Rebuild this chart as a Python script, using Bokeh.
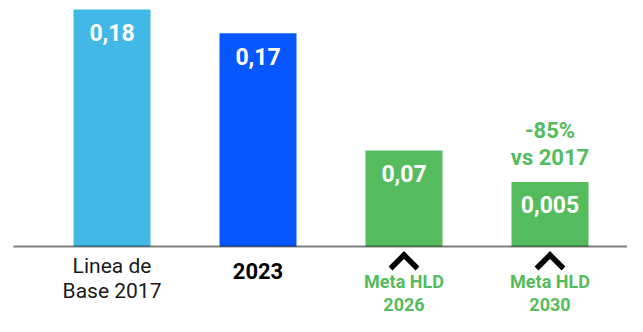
import numpy as np
from bokeh.plotting import figure
from bokeh.models import Range1d
from bokeh.core.properties import value
from bokeh.embed import file_html
from bokeh.resources import INLINE

# ---- data ----
categories = ["Linea de\nBase 2017", "2023", "Meta HLD\n2026", "Meta HLD\n2030"]
value_labels = ["0,18", "0,17", "0,07", "0,005"]
bar_heights = [0.18, 0.162, 0.073, 0.049]
note_text = "-85%\nvs 2017"
note_index = 3
goal_indices = [2, 3]

# ---- styles ----
LIGHT_BLUE = "#41b8e6"
BLUE = "#0857fe"
GREEN = "#55bc5d"
bar_colors = [LIGHT_BLUE, BLUE, GREEN, GREEN]
FONT = value("Roboto")

W, H = 627, 316
BASE_Y = 246.0               # pixel row of the baseline
PX_X = 146.0                 # pixels per category step
PX_Y = 237.0 / 0.18          # pixels per data unit
x0 = -111.5 / PX_X
y_top = BASE_Y / PX_Y
y_bot = -(H - BASE_Y) / PX_Y

xs = list(np.arange(len(categories), dtype=float))

p = figure(width=W, height=H, output_backend="svg", toolbar_location=None,
           x_range=Range1d(x0, x0 + W / PX_X), y_range=Range1d(y_bot, y_top),
           x_axis_location=None, y_axis_location=None, min_border=0,
           outline_line_color=None)
p.xgrid.visible = False
p.ygrid.visible = False
p.background_fill_color = "white"
p.border_fill_color = "white"

# bars
p.vbar(x=xs, top=bar_heights, bottom=0, width=77 / PX_X, color=bar_colors, line_color=None)

# baseline
p.segment(x0=[x0 + 13 / PX_X], y0=[0], x1=[x0 + W / PX_X], y1=[0],
          line_color="black", line_alpha=0.5, line_width=2)

# value labels inside bars
p.text(x=xs, y=bar_heights, text=value_labels, y_offset=23,
       text_align="center", text_baseline="middle", text_color="white",
       text_font=FONT, text_font_style="bold", text_font_size="23px")

# note above last bar
p.text(x=[xs[note_index]], y=[bar_heights[note_index]], text=[note_text], y_offset=-38,
       text_align="center", text_baseline="middle", text_color=GREEN,
       text_font=FONT, text_font_style="bold", text_font_size="22px",
       text_line_height=1.1)

# category labels
p.text(x=[xs[0]], y=[0], text=[categories[0]], y_offset=32,
       text_align="center", text_baseline="middle", text_color="#1a1a1a",
       text_font=FONT, text_font_style="normal", text_font_size="21px",
       text_line_height=1.03)
p.text(x=[xs[1]], y=[0], text=[categories[1]], y_offset=24.5,
       text_align="center", text_baseline="middle", text_color="black",
       text_font=FONT, text_font_style="bold", text_font_size="22px")
p.text(x=[xs[i] for i in goal_indices], y=[0] * len(goal_indices),
       text=[categories[i] for i in goal_indices], y_offset=46.5,
       text_align="center", text_baseline="middle", text_color=GREEN,
       text_font=FONT, text_font_style="bold", text_font_size="18px",
       text_line_height=1.05)

# chevrons under goal bars
dx = 13.5 / PX_X
apex = -8.5 / PX_Y
leg = -22.0 / PX_Y
p.multi_line(xs=[[xs[i] - dx, xs[i], xs[i] + dx] for i in goal_indices],
             ys=[[leg, apex, leg] for _ in goal_indices],
             line_color="black", line_width=5.5, line_join="miter", line_cap="butt")

open("out.html", "w").write(file_html(p, INLINE))
